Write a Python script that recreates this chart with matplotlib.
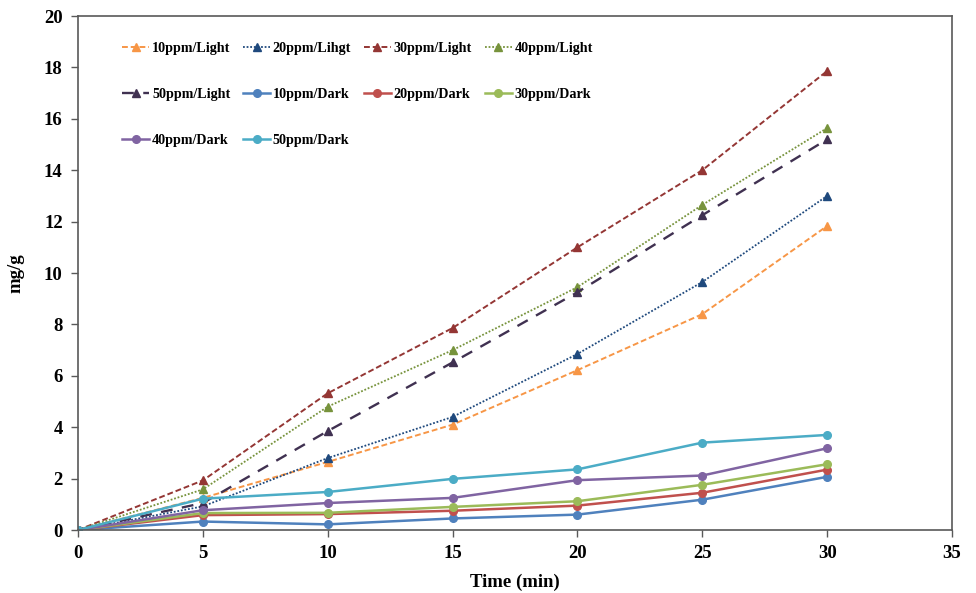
import matplotlib
matplotlib.use("Agg")
import matplotlib.pyplot as plt

plt.rcParams['font.family'] = ['Liberation Serif', 'DejaVu Serif']
plt.rcParams['font.weight'] = 'bold'

time = [0, 5, 10, 15, 20, 25, 30]

light_labels = ["10ppm/Light", "20ppm/Lihgt", "30ppm/Light", "40ppm/Light", "50ppm/Light"]
light_10 = [0, 1.25, 2.65, 4.1, 6.22, 8.4, 11.83]
light_20 = [0, 0.92, 2.8, 4.4, 6.85, 9.65, 13.0]
light_30 = [0, 1.93, 5.32, 7.86, 11.0, 14.0, 17.86]
light_40 = [0, 1.58, 4.8, 7.0, 9.45, 12.65, 15.64]
light_50 = [0, 1.05, 3.85, 6.52, 9.25, 12.25, 15.2]

dark_labels = ["10ppm/Dark", "20ppm/Dark", "30ppm/Dark", "40ppm/Dark", "50ppm/Dark"]
dark_10 = [0, 0.33, 0.22, 0.45, 0.6, 1.18, 2.07]
dark_20 = [0, 0.58, 0.62, 0.75, 0.95, 1.45, 2.35]
dark_30 = [0, 0.66, 0.67, 0.9, 1.12, 1.76, 2.56]
dark_40 = [0, 0.77, 1.05, 1.25, 1.94, 2.12, 3.18]
dark_50 = [0, 1.22, 1.48, 1.99, 2.36, 3.4, 3.7]

light_series = [light_10, light_20, light_30, light_40, light_50]
dark_series = [dark_10, dark_20, dark_30, dark_40, dark_50]

light_colors = ["#F79646", "#1F497D", "#943634", "#77933C", "#403151"]
light_styles = [(0, (3, 1.5)), (0, (1, 1)), (0, (3, 1.5)), (0, (1, 1)), (0, (5, 4))]
light_widths = [1.4, 1.3, 1.4, 1.3, 1.7]
dark_colors = ["#4F81BD", "#C0504D", "#9BBB59", "#8064A2", "#4BACC6"]

fig = plt.figure(figsize=(9.76, 5.93), dpi=100)
ax = fig.add_axes([0.0799, 0.1062, 0.8955, 0.8668])

handles = []
for ys, lab, c, ls, lw in zip(light_series, light_labels, light_colors, light_styles, light_widths):
    h, = ax.plot(time, ys, color=c, linestyle=ls, linewidth=lw, marker='^',
                 markersize=5.5, markerfacecolor=c, markeredgecolor=c, label=lab)
    handles.append(h)
for ys, lab, c in zip(dark_series, dark_labels, dark_colors):
    h, = ax.plot(time, ys, color=c, linestyle='-', linewidth=1.8, marker='o',
                 markersize=5.5, markerfacecolor=c, markeredgecolor=c, label=lab)
    handles.append(h)

ax.set_xlim(0, 35)
ax.set_ylim(0, 20)
ax.set_xticks(range(0, 36, 5))
ax.set_yticks(range(0, 21, 2))
ax.tick_params(axis='both', direction='out', length=5, width=1, color='#595959',
               labelsize=13.5, pad=6)
for lab in ax.get_xticklabels() + ax.get_yticklabels():
    lab.set_fontweight('bold')
for sp in ax.spines.values():
    sp.set_color('#595959')
    sp.set_linewidth(1.2)

ax.set_xlabel("Time (min)", fontsize=13.5, fontweight='bold', labelpad=8)
ax.set_ylabel("mg/g", fontsize=13.5, fontweight='bold', labelpad=14)

# row-major order for a 4-column legend (matplotlib fills column-wise)
ncol = 4
order = []
for col in range(ncol):
    order.extend(range(col, len(handles), ncol))
leg_handles = [handles[i] for i in order]

leg = ax.legend(handles=leg_handles, ncol=ncol, loc='upper left', bbox_to_anchor=(0.036, 0.975),
                frameon=False, prop={'family': 'Liberation Serif', 'weight': 'bold', 'size': 10.2},
                handlelength=1.9, handletextpad=0.2, columnspacing=0.9, labelspacing=2.35)

fig.savefig("out.png", dpi=100)
